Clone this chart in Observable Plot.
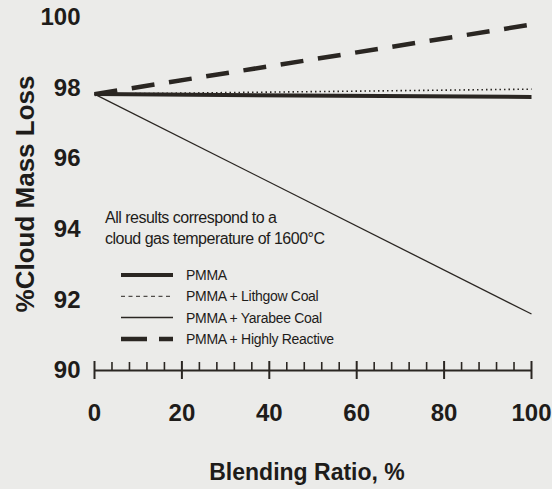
<!DOCTYPE html>
<html><head><meta charset="utf-8">
<script src="https://cdn.jsdelivr.net/npm/d3@7"></script>
<script src="https://cdn.jsdelivr.net/npm/@observablehq/plot@0.6"></script>
<style>
html,body{margin:0;padding:0;background:#ebebe9;}
#chart svg{display:block;}
</style></head><body><div id="chart"></div>
<script>
// ---- data ----
const blendingRatio = [0, 100];
const pmma = [97.83, 97.75];
const pmmaLithgow = [97.83, 97.97];
const pmmaYarabee = [97.83, 91.6];
const pmmaHighlyReactive = [97.83, 99.8];
const seriesNames = ["PMMA", "PMMA + Lithgow Coal", "PMMA + Yarabee Coal", "PMMA + Highly Reactive"];
const xTicks = [0, 20, 40, 60, 80, 100];
const xMinorTicks = [4, 8, 12, 16, 24, 28, 32, 36, 44, 48, 52, 56, 64, 68, 72, 76, 84, 88, 92, 96];
const yTicks = [90, 92, 94, 96, 98, 100];
const noteLines = ["All results correspond to a", "cloud gas temperature of 1600°C"];
const xTitle = "Blending Ratio, %";
const yTitle = "%Cloud Mass Loss";

// ---- build table ----
const seriesValues = [pmma, pmmaLithgow, pmmaYarabee, pmmaHighlyReactive];
const rows = seriesNames.flatMap((s, i) => blendingRatio.map((x, j) => ({series: s, x, y: seriesValues[i][j]})));

const ink = "#2a2622";
const font = "'Liberation Sans', Arial, Helvetica, sans-serif";
const lineStyle = {
  "PMMA": {strokeWidth: 4, dash: null, legendWidth: 4, legendDash: null},
  "PMMA + Lithgow Coal": {strokeWidth: 1.6, dash: "1.5,3", legendWidth: 1, legendDash: "4,3.5"},
  "PMMA + Yarabee Coal": {strokeWidth: 1.3, dash: null, legendWidth: 1.5, legendDash: null},
  "PMMA + Highly Reactive": {strokeWidth: 4.5, dash: "23,14.7", legendWidth: 4.5, legendDash: "26,12"}
};

const lineMarks = seriesNames.map(s => Plot.line(rows.filter(d => d.series === s), {
  x: "x", y: "y", stroke: ink,
  strokeWidth: lineStyle[s].strokeWidth,
  strokeDasharray: lineStyle[s].dash || undefined,
  strokeLinecap: "butt"
}));

const plot = Plot.plot({
  width: 552, height: 489,
  marginLeft: 94, marginRight: 21, marginTop: 17, marginBottom: 119,
  x: {domain: [0, 100]},
  y: {domain: [90, 100]},
  style: {background: "transparent", fontFamily: font, color: "#1e1c1a"},
  marks: [
    Plot.ruleY([90], {x1: 0, x2: 100, stroke: ink, strokeWidth: 2}),
    Plot.ruleX(xTicks, {y1: 90, y2: 90, insetTop: -9, insetBottom: -9, stroke: ink, strokeWidth: 2}),
    Plot.ruleX(xMinorTicks, {y1: 90, y2: 90, insetTop: -8, insetBottom: 0, stroke: ink, strokeWidth: 1.6}),
    Plot.axisX(xTicks, {tickSize: 0, tickPadding: 33, fontSize: 24, fontWeight: "bold", label: null, letterSpacing: "-1.5px"}),
    Plot.axisY(yTicks, {tickSize: 0, tickPadding: 14, fontSize: 24, fontWeight: "bold", label: null, letterSpacing: "-1px"}),
    ...lineMarks,
    Plot.text([xTitle], {frameAnchor: "bottom", textAnchor: "middle", dx: -6, dy: 109, fontSize: 23, fontWeight: "bold", letterSpacing: "-1.4px"}),
    Plot.text([yTitle], {frameAnchor: "left", textAnchor: "middle", rotate: -90, dx: -69, dy: 0, fontSize: 26, fontWeight: "bold"})
  ]
});
document.getElementById("chart").appendChild(plot);

// ---- inline legend ----
const svg = d3.select(plot);
const lg = svg.append("g").attr("font-family", font).attr("fill", "#1e1c1a").attr("text-anchor", "start");
lg.selectAll("text.note").data(noteLines).join("text")
  .attr("class", "note")
  .attr("x", 105).attr("y", (d, i) => 217 + i * 21)
  .attr("dy", "0.35em").attr("font-size", 16).attr("letter-spacing", "-0.5px")
  .text(d => d);
const entry = lg.selectAll("g.entry").data(seriesNames).join("g")
  .attr("class", "entry")
  .attr("transform", (d, i) => `translate(0,${275 + i * 21.3})`);
entry.append("line").attr("x1", 121).attr("x2", 173).attr("y1", 0).attr("y2", 0)
  .attr("stroke", ink)
  .attr("stroke-width", d => lineStyle[d].legendWidth)
  .attr("stroke-dasharray", d => lineStyle[d].legendDash);
entry.append("text").attr("x", 186).attr("y", 0).attr("dy", "0.35em")
  .attr("font-size", 14).attr("letter-spacing", "-0.3px")
  .text(d => d);
</script></body></html>
